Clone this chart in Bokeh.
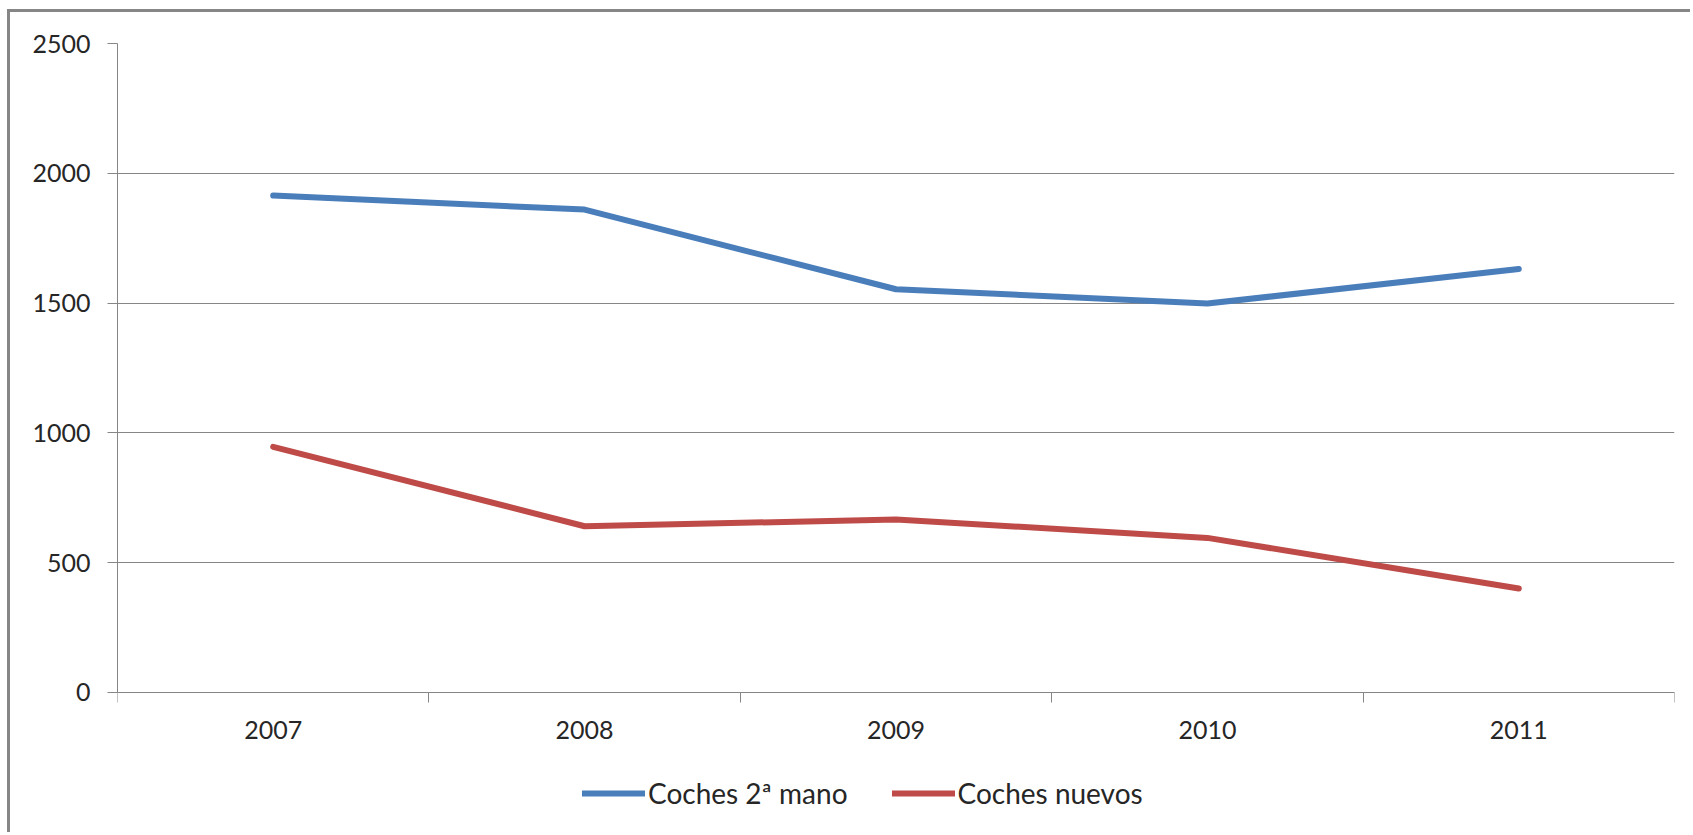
from bokeh.plotting import figure
from bokeh.models import Range1d, FixedTicker, Legend, LegendItem, ColumnDataSource
from bokeh.embed import file_html
from bokeh.resources import INLINE

years = ["2007", "2008", "2009", "2010", "2011"]
usados = [1914, 1860, 1553, 1498, 1631]
nuevos = [946, 640, 666, 595, 400]
y_ticks = [0, 500, 1000, 1500, 2000, 2500]
series_names = ["Coches 2ª mano", "Coches nuevos"]

xs = [i + 0.5 for i in range(len(years))]
src = ColumnDataSource(dict(x=xs, usados=usados, nuevos=nuevos))

FONT = "Lato"
GRAY = "#868686"
TXT = "#262626"

# frame: page y 44 (2500) .. 692 (0); frame extends to page bottom (835)
px_per_unit = 648 / 2500
y_bottom = -(835 - 692) / px_per_unit

p = figure(width=1683, height=823, output_backend="svg", toolbar_location=None,
           x_range=Range1d(0, len(years)), y_range=Range1d(y_bottom, 2500),
           min_border_left=107, min_border_right=19, min_border_top=31, min_border_bottom=0)
p.styles = {"margin-left": "7px", "margin-top": "9px",
            "border-left": "3px solid #868686", "border-top": "3px solid #868686"}
p.outline_line_color = None
p.background_fill_color = "white"
p.border_fill_color = "white"

r1 = p.line("x", "usados", source=src, line_color="#4A7EBB", line_width=6, line_join="round", line_cap="round")
r2 = p.line("x", "nuevos", source=src, line_color="#BE4B48", line_width=6, line_join="round", line_cap="round")

# y axis
p.yaxis.ticker = FixedTicker(ticks=y_ticks)
p.yaxis.bounds = (0, 2500)
p.yaxis.axis_line_color = GRAY
p.yaxis.major_tick_line_color = GRAY
p.yaxis.major_tick_out = 10
p.yaxis.major_tick_in = 0
p.yaxis.minor_tick_line_color = None
p.yaxis.major_label_text_font = FONT
p.yaxis.major_label_text_font_size = "25px"
p.yaxis.major_label_text_color = TXT
p.yaxis.major_label_standoff = 17

# x axis, drawn at y = 0
p.xaxis.fixed_location = 0
p.xaxis.ticker = FixedTicker(ticks=xs, minor_ticks=list(range(len(years) + 1)))
p.xaxis.major_label_overrides = {x: y for x, y in zip(xs, years)}
p.xaxis.axis_line_color = GRAY
p.xaxis.major_tick_line_color = None
p.xaxis.major_tick_out = 0
p.xaxis.major_tick_in = 0
p.xaxis.minor_tick_line_color = GRAY
p.xaxis.minor_tick_out = 10
p.xaxis.minor_tick_in = 0
p.xaxis.major_label_text_font = FONT
p.xaxis.major_label_text_font_size = "25px"
p.xaxis.major_label_text_color = TXT
p.xaxis.major_label_standoff = 19

p.xgrid.grid_line_color = None
p.ygrid.grid_line_color = GRAY
p.ygrid.grid_line_width = 1

legend = Legend(items=[LegendItem(label=series_names[0], renderers=[r1]),
                       LegendItem(label=series_names[1], renderers=[r2])],
                orientation="horizontal", location=(465, 25),
                label_text_font=FONT, label_text_font_size="28px", label_text_color=TXT,
                glyph_width=63, glyph_height=32, label_height=32, label_standoff=3,
                spacing=44, padding=0, margin=0, border_line_color=None,
                background_fill_alpha=0)
p.add_layout(legend, "center")

open("out.html", "w").write(file_html(p, INLINE))
